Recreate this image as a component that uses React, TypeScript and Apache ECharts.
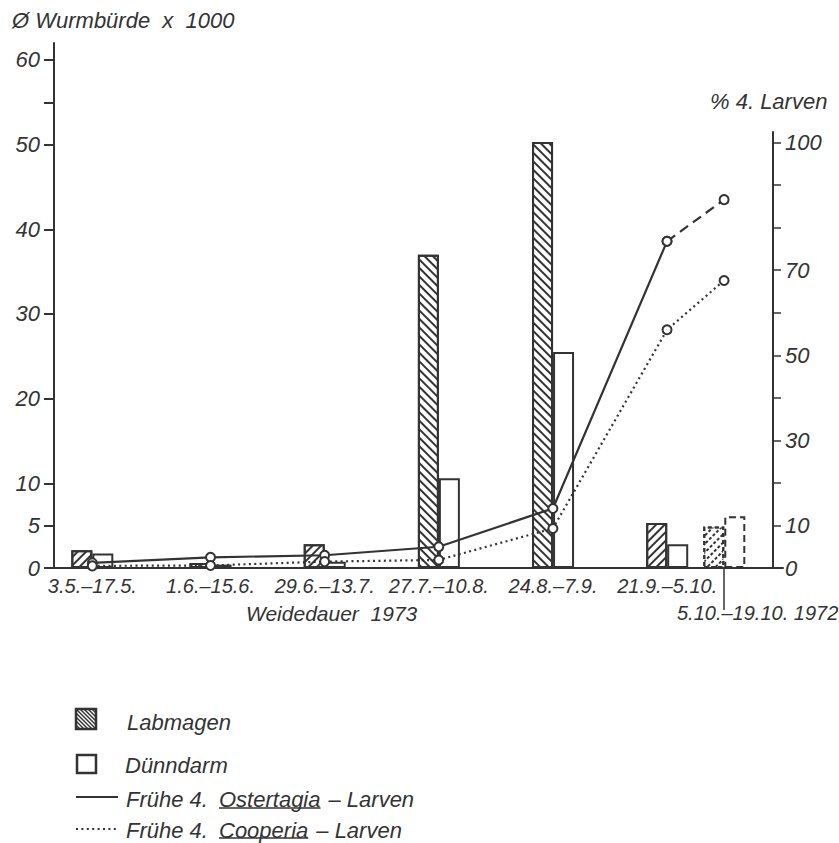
import React, { useEffect, useRef } from "react";
import * as echarts from "echarts";

// ---------- data ----------
const periodLabels = ["3.5.–17.5.", "1.6.–15.6.", "29.6.–13.7.", "27.7.–10.8.", "24.8.–7.9.", "21.9.–5.10."];
// start of each grazing period (day, month), 1973
const periodStarts: [number, number][] = [[3, 5], [1, 6], [29, 6], [27, 7], [24, 8], [21, 9]];
const label1972 = "5.10.–19.10. 1972";
const start1972: [number, number] = [5, 10];

// mean worm burden x 1000
const labmagen = [2.1, 0.6, 2.8, 37.0, 50.3, 5.3];
const labmagen1972 = 4.9;
const duenndarm = [1.7, 0.4, 0.75, 10.6, 25.5, 2.8];
const duenndarm1972 = 6.1;

// % early 4th stage larvae
const ostertagia = [1.2, 2.5, 3.0, 5.0, 14.0, 76.8];
const ostertagia1972 = 86.6;
const cooperia = [0.5, 0.6, 1.5, 1.9, 9.3, 56.0];
const cooperia1972 = 67.6;

const leftTickLabels = [0, 5, 10, 20, 30, 40, 50, 60];
const leftTicks = [0, 5, 10, 20, 30, 40, 50, 55, 60];
const rightTickLabels = [0, 10, 30, 50, 70, 100];
const rightTicks = [0, 10, 20, 30, 40, 50, 60, 70, 80, 90, 100];

// ---------- styling ----------
const hatchDirs = ["/", "/", "/", "\\", "\\", "/"];
const INK = "#333";
const FONT = "'Liberation Sans', Arial, Helvetica, sans-serif";

const monthStart = [0, 31, 59, 90, 120, 151, 181, 212, 243, 273, 304, 334];
const dayOfYear = ([d, m]: [number, number]) => monthStart[m - 1] + d;
const days = periodStarts.map(dayOfYear);
const day1972 = dayOfYear(start1972);

const X_MIN = 113.6;

const hatch = (dir: string, dashX: number[] = [1, 0]) => ({
  symbol: "rect",
  symbolSize: 1,
  dashArrayX: dashX,
  dashArrayY: [1.5, 3.6],
  rotation: dir === "/" ? -Math.PI / 4 : Math.PI / 4,
  color: INK,
  backgroundColor: "#fff",
});

const textStyle = (size: number) => ({
  fontFamily: FONT,
  fontStyle: "italic",
  fontSize: size,
  color: INK,
});

function measure(text: string, size: number) {
  const c = document.createElement("canvas").getContext("2d");
  if (!c) return text.length * size * 0.5;
  c.font = `italic ${size}px ${FONT}`;
  return c.measureText(text).width;
}

function gText(text: string, x: number, y: number, size: number, align = "left") {
  return {
    type: "text",
    x,
    y,
    style: {
      text,
      font: `italic ${size}px ${FONT}`,
      fill: INK,
      align,
      verticalAlign: "middle",
    },
  };
}

function hatchSquare(x0: number, y0: number, s: number) {
  const children: any[] = [];
  for (let k = 0; k < s; k += 4) {
    children.push({ type: "line", shape: { x1: x0, y1: y0 + k, x2: x0 + s - k, y2: y0 + s }, style: { stroke: INK, lineWidth: 1.5 } });
    if (k > 0)
      children.push({ type: "line", shape: { x1: x0 + k, y1: y0, x2: x0 + s, y2: y0 + s - k }, style: { stroke: INK, lineWidth: 1.5 } });
  }
  children.push({ type: "rect", shape: { x: x0, y: y0, width: s, height: s }, style: { fill: "none", stroke: INK, lineWidth: 2.5 } });
  return { type: "group", children };
}

export default function App() {
  const ref = useRef<HTMLDivElement>(null);

  useEffect(() => {
    if (!ref.current) return;
    const chart = echarts.init(ref.current, undefined, { renderer: "svg" });

    const legSize = 22;
    const wOst = measure("Ostertagia", legSize);
    const wCoo = measure("Cooperia", legSize);

    const labData: any[] = labmagen.map((v, i) => ({
      value: [days[i], v],
      itemStyle: { decal: hatch(hatchDirs[i]) },
    }));
    labData.push({
      value: [day1972, labmagen1972],
      itemStyle: { borderType: [4, 3], decal: hatch("/", [3, 1.5]) },
    });
    const dueData: any[] = duenndarm.map((v, i) => ({ value: [days[i], v] }));
    dueData.push({ value: [day1972, duenndarm1972], itemStyle: { borderType: [7, 4] } });

    const lineCommon = {
      type: "line",
      xAxisIndex: 1,
      yAxisIndex: 1,
      symbol: "emptyCircle",
      symbolSize: 9,
      itemStyle: { color: INK, borderColor: INK, borderWidth: 1.8 },
      z: 5,
    };

    chart.setOption({
      animation: false,
      backgroundColor: "#fff",
      grid: [
        { left: 54, right: 56, top: 43, bottom: 275 },
        { left: 54, right: 66, top: 132, bottom: 275 },
      ],
      xAxis: [
        {
          gridIndex: 0,
          type: "value",
          min: X_MIN,
          max: 292.4,
          axisLine: { show: true, onZero: false, lineStyle: { color: INK, width: 2 } },
          axisTick: { show: false },
          splitLine: { show: false },
          axisLabel: {
            ...textStyle(20),
            margin: 8,
            customValues: days,
            formatter: (v: number) => {
              const i = days.indexOf(v);
              return i >= 0 ? periodLabels[i] : "";
            },
          },
        },
        {
          gridIndex: 1,
          type: "value",
          min: X_MIN,
          max: 290,
          axisLine: { show: false },
          axisTick: { show: true, customValues: [day1972], length: 42, lineStyle: { color: INK, width: 1.5 } },
          axisLabel: { show: false },
          splitLine: { show: false },
        },
      ],
      yAxis: [
        {
          gridIndex: 0,
          type: "value",
          position: "left",
          min: 0,
          max: 62,
          axisLine: { show: true, lineStyle: { color: INK, width: 2 } },
          axisTick: { show: true, customValues: leftTicks, length: 10, lineStyle: { color: INK, width: 2 } },
          axisLabel: { ...textStyle(22), margin: 14, customValues: leftTickLabels },
          splitLine: { show: false },
        },
        {
          gridIndex: 1,
          type: "value",
          position: "right",
          min: 0,
          max: 102.5,
          axisLine: { show: true, lineStyle: { color: INK, width: 2 } },
          axisTick: { show: true, customValues: rightTicks, length: 8, lineStyle: { color: INK, width: 1.5 } },
          axisLabel: { ...textStyle(22), margin: 12, customValues: rightTickLabels },
          splitLine: { show: false },
        },
      ],
      series: [
        {
          name: "Labmagen",
          type: "bar",
          xAxisIndex: 0,
          yAxisIndex: 0,
          barWidth: 21,
          barGap: "0%",
          itemStyle: { color: "#fff", borderColor: INK, borderWidth: 2 },
          data: labData,
        },
        {
          name: "Dünndarm",
          type: "bar",
          xAxisIndex: 0,
          yAxisIndex: 0,
          barWidth: 21,
          barGap: "0%",
          itemStyle: { color: "rgba(255,255,255,0)", borderColor: INK, borderWidth: 2 },
          data: dueData,
        },
        {
          ...lineCommon,
          name: "Frühe 4. Ostertagia-Larven",
          lineStyle: { color: INK, width: 2.2 },
          data: ostertagia.map((v, i) => [days[i], v]),
        },
        {
          ...lineCommon,
          name: "Frühe 4. Ostertagia-Larven 1972",
          lineStyle: { color: INK, width: 2.2, type: [10, 6] },
          data: [
            [days[days.length - 1], ostertagia[ostertagia.length - 1]],
            [day1972, ostertagia1972],
          ],
        },
        {
          ...lineCommon,
          name: "Frühe 4. Cooperia-Larven",
          lineStyle: { color: INK, width: 2.2, type: [2, 3.4] },
          data: [...cooperia.map((v, i) => [days[i], v]), [day1972, cooperia1972]],
        },
      ],
      graphic: [
        gText("Ø Wurmbürde  x  1000", 12, 20, 22),
        gText("% 4. Larven", 710, 101, 22),
        gText("Weidedauer  1973", 246, 613, 21),
        gText(label1972, 677, 613, 20),
        // legend
        hatchSquare(76, 709, 20),
        gText("Labmagen", 127, 722, legSize),
        { type: "rect", shape: { x: 77, y: 755, width: 19, height: 18 }, style: { fill: "#fff", stroke: INK, lineWidth: 2.5 } },
        gText("Dünndarm", 125, 765, legSize),
        { type: "line", shape: { x1: 76, y1: 797, x2: 118, y2: 797 }, style: { stroke: INK, lineWidth: 2.2 } },
        gText("Frühe 4.", 126, 799, legSize),
        gText("Ostertagia", 219, 799, legSize),
        { type: "line", shape: { x1: 219, y1: 808, x2: 219 + wOst, y2: 808 }, style: { stroke: INK, lineWidth: 1.5 } },
        gText("– Larven", 219 + wOst + 8, 799, legSize),
        { type: "line", shape: { x1: 76, y1: 829, x2: 118, y2: 829 }, style: { stroke: INK, lineWidth: 2, lineDash: [2, 3.4] } },
        gText("Frühe 4.", 126, 830, legSize),
        gText("Cooperia", 219, 830, legSize),
        { type: "line", shape: { x1: 219, y1: 838, x2: 219 + wCoo, y2: 838 }, style: { stroke: INK, lineWidth: 1.5 } },
        gText("– Larven", 219 + wCoo + 8, 830, legSize),
      ],
    });

    return () => chart.dispose();
  }, []);

  return (
    <div
      ref={ref}
      style={{ position: "absolute", left: 0, top: 0, width: 839, height: 843 }}
    />
  );
}
